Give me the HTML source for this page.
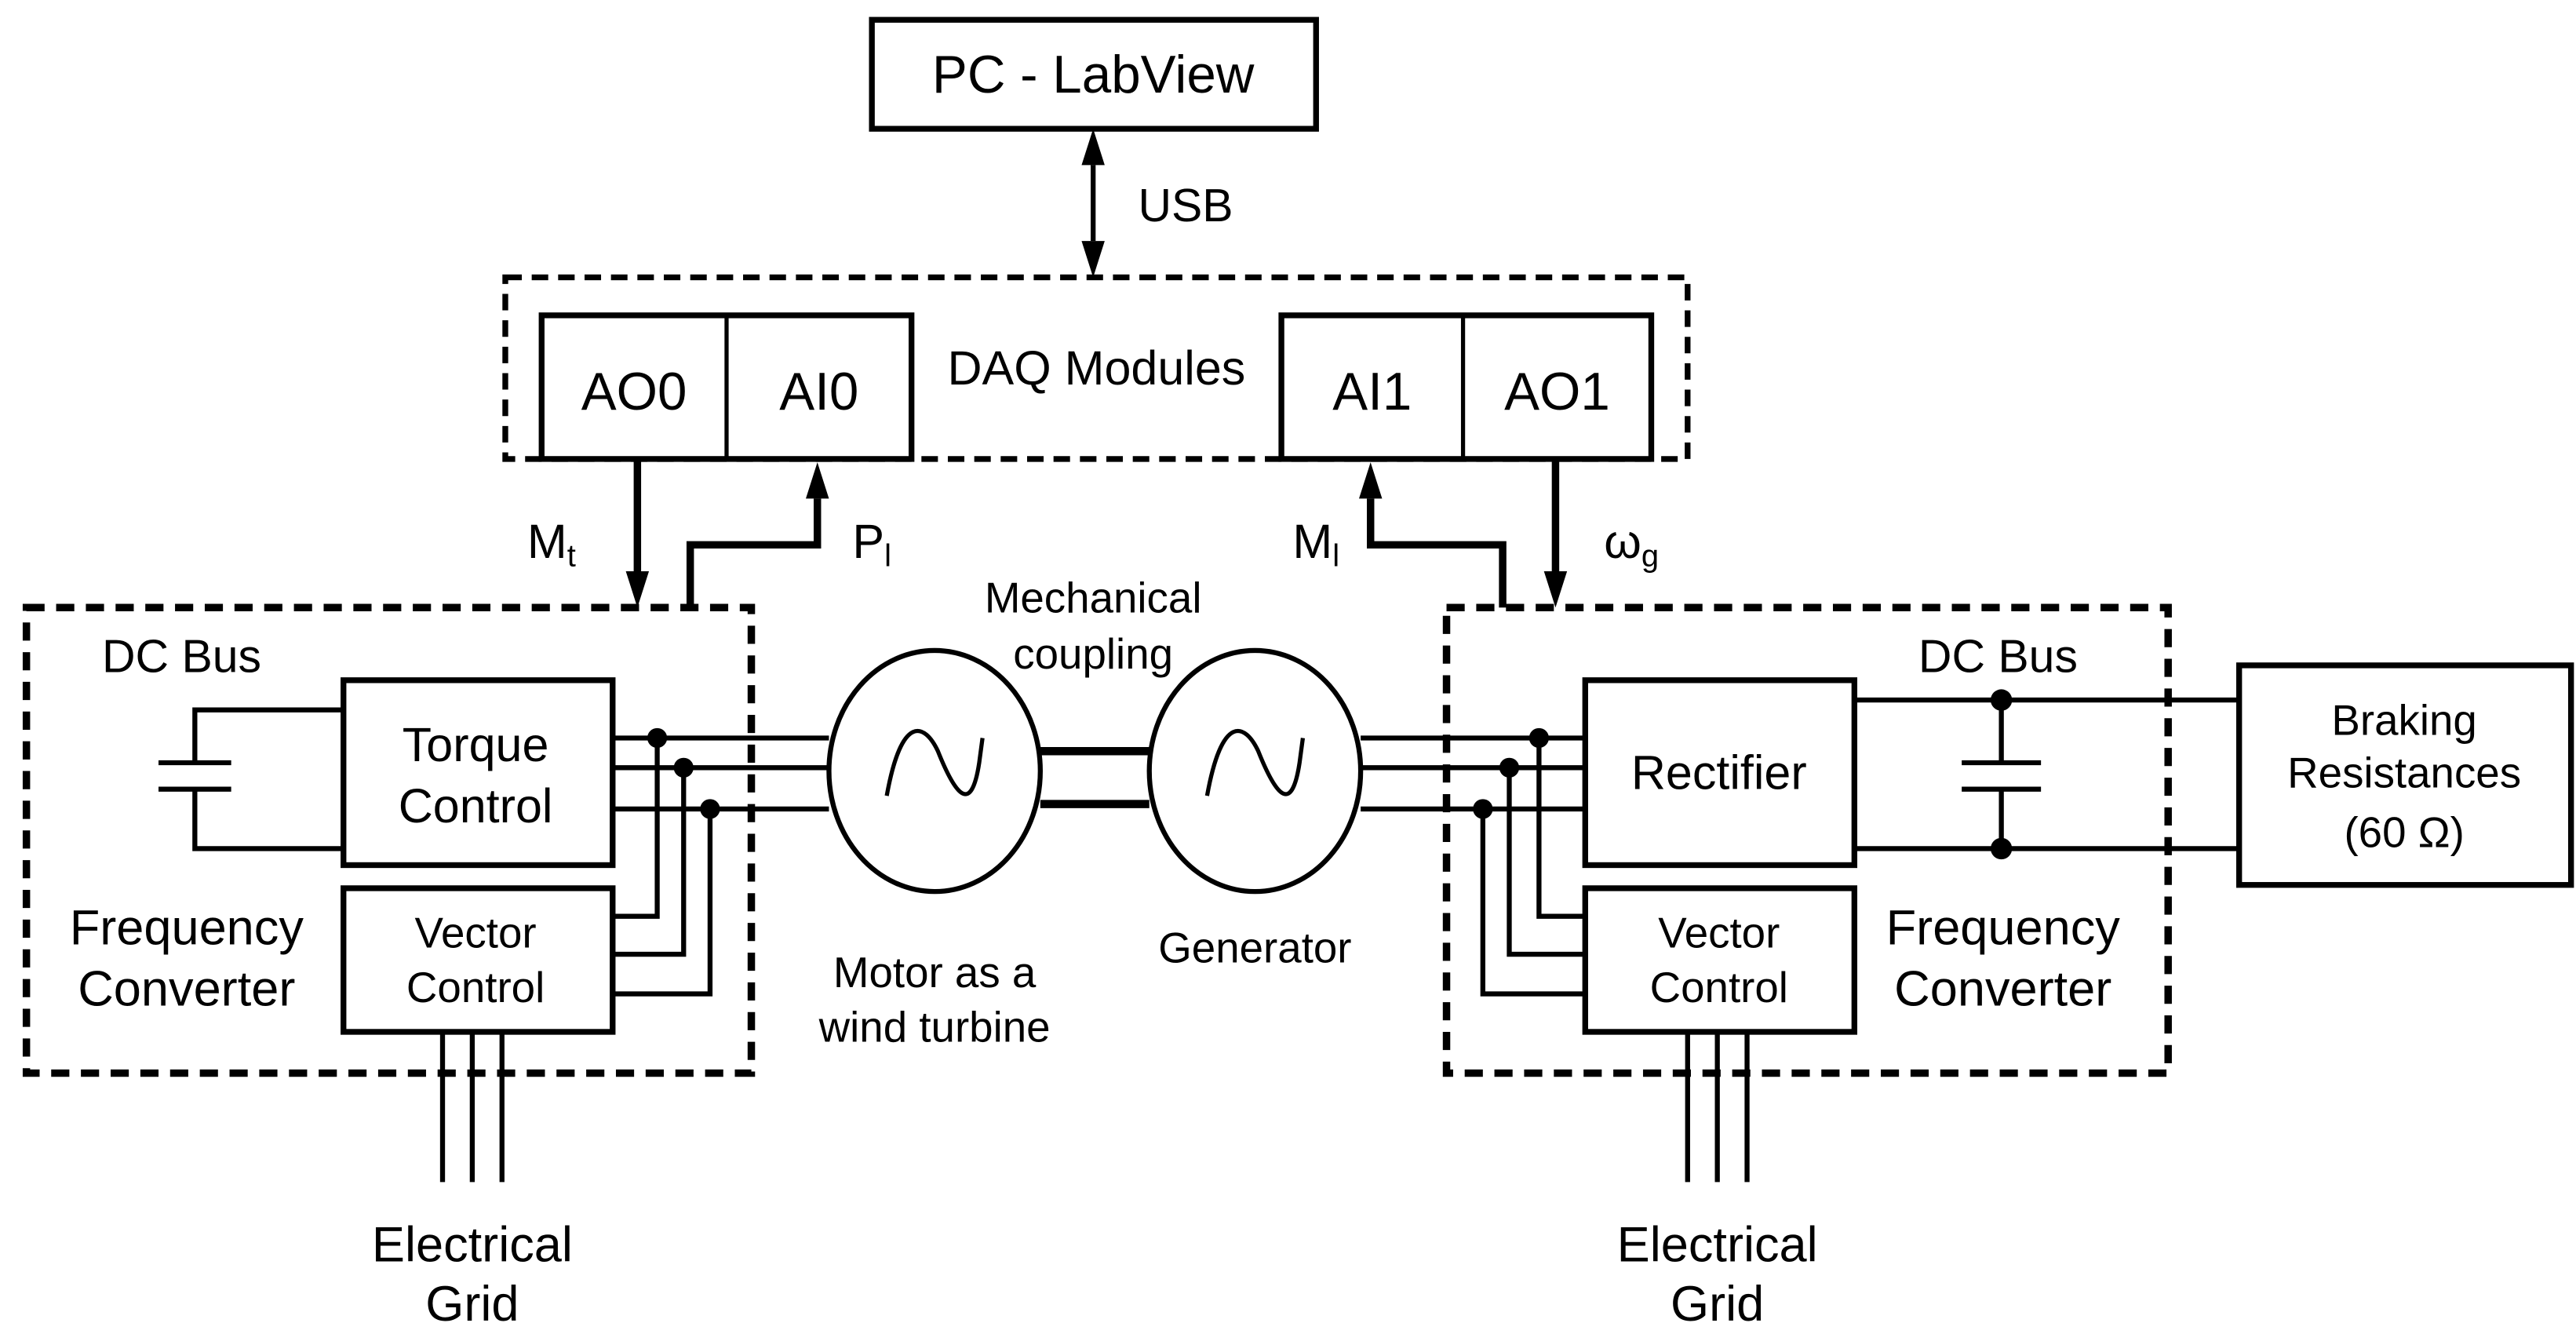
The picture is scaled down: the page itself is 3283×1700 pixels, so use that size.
<!DOCTYPE html>
<html><head><meta charset="utf-8"><style>html,body{margin:0;padding:0;background:#fff}svg{display:block}</style></head>
<body>
<svg width="3283" height="1700" viewBox="0 0 1560 808" preserveAspectRatio="none" xmlns="http://www.w3.org/2000/svg" font-family="Liberation Sans, Arial, sans-serif" text-anchor="middle">
<g fill="none" stroke="#000">
<rect x="528" y="12" width="269" height="66" stroke-width="3.5"/>
<line x1="662" y1="100" x2="662" y2="146" stroke-width="3"/>
<path d="M662,78 L655,100 L669,100z M662,168 L655,146 L669,146z" fill="#000" stroke="none"/>
<rect x="306" y="168" width="716" height="110" stroke-width="3.5" stroke-dasharray="10,6"/>
<rect x="328" y="191" width="224" height="87" fill="#fff" stroke-width="3.5"/>
<line x1="440" y1="191" x2="440" y2="278" stroke-width="2.5"/>
<rect x="776" y="191" width="224" height="87" fill="#fff" stroke-width="3.5"/>
<line x1="886" y1="191" x2="886" y2="278" stroke-width="2.5"/>
<line x1="386" y1="278" x2="386" y2="346" stroke-width="4.5"/>
<path d="M418,368 L418,330 L495,330 L495,302" stroke-width="4.5"/>
<path d="M910,368 L910,330 L830,330 L830,302" stroke-width="4.5"/>
<line x1="942" y1="278" x2="942" y2="346" stroke-width="4.5"/>
<path d="M386,368 L379,346 L393,346z M942,368 L935,346 L949,346z M495,280 L488,302 L502,302z M830,280 L823,302 L837,302z" fill="#000" stroke="none"/>
<rect x="16" y="368" width="439" height="282" stroke-width="4.5" stroke-dasharray="11,7"/>
<rect x="876" y="368" width="437" height="282" stroke-width="4.5" stroke-dasharray="11,7"/>
<rect x="208" y="412" width="163" height="112" stroke-width="3.5" fill="#fff"/>
<rect x="208" y="538" width="163" height="87" stroke-width="3.5" fill="#fff"/>
<path d="M208,430 L118,430 L118,462 M96,462 L140,462 M96,478 L140,478 M118,478 L118,514 L208,514" stroke-width="3"/>
<path d="M371,447 L502,447 M371,465 L502,465 M371,490 L502,490" stroke-width="3"/>
<path d="M398,447 L398,555 L371,555 M414,465 L414,578 L371,578 M430,490 L430,602 L371,602" stroke-width="3"/>
<path d="M268,625 L268,716 M286,625 L286,716 M304,625 L304,716" stroke-width="3"/>
<ellipse cx="566" cy="467" rx="64" ry="73" stroke-width="3"/>
<ellipse cx="760" cy="467" rx="64" ry="73" stroke-width="3"/>
<path d="M537,482 C546,432 560,438 568,455 C578,480 588,495 593,462 L595,447" stroke-width="2.5"/>
<path d="M731,482 C740,432 754,438 762,455 C772,480 782,495 787,462 L789,447" stroke-width="2.5"/>
<path d="M630,455 L696,455 M630,487 L696,487" stroke-width="5"/>
<path d="M824,447 L960,447 M824,465 L960,465 M824,490 L960,490" stroke-width="3"/>
<path d="M932,447 L932,555 L960,555 M914,465 L914,578 L960,578 M898,490 L898,602 L960,602" stroke-width="3"/>
<rect x="960" y="412" width="163" height="112" stroke-width="3.5" fill="#fff"/>
<rect x="960" y="538" width="163" height="87" stroke-width="3.5" fill="#fff"/>
<path d="M1123,424 L1356,424 M1123,514 L1356,514 M1212,424 L1212,462 M1188,462 L1236,462 M1188,478 L1236,478 M1212,478 L1212,514" stroke-width="3"/>
<path d="M1022,625 L1022,716 M1040,625 L1040,716 M1058,625 L1058,716" stroke-width="3"/>
<rect x="1356" y="403" width="201" height="133" stroke-width="3.5"/>
</g>
<g fill="#000">
<circle cx="398" cy="447" r="6"/><circle cx="414" cy="465" r="6"/><circle cx="430" cy="490" r="6"/>
<circle cx="932" cy="447" r="6"/><circle cx="914" cy="465" r="6"/><circle cx="898" cy="490" r="6"/>
<circle cx="1212" cy="424" r="6.5"/><circle cx="1212" cy="514" r="6.5"/>
</g>
<g fill="#000" font-size="30">
<text x="662" y="56" font-size="32">PC - LabView</text>
<text x="718" y="134" font-size="28">USB</text>
<text x="384" y="248" font-size="32">AO0</text>
<text x="496" y="248" font-size="32">AI0</text>
<text x="664" y="233" font-size="29">DAQ Modules</text>
<text x="831" y="248" font-size="32">AI1</text>
<text x="943" y="248" font-size="32">AO1</text>
<text x="334" y="338" font-size="29">M<tspan font-size="19" dy="5">t</tspan></text>
<text x="528" y="338" font-size="29">P<tspan font-size="19" dy="5">l</tspan></text>
<text x="797" y="338" font-size="29">M<tspan font-size="19" dy="5">l</tspan></text>
<text x="988" y="338" font-size="29">ω<tspan font-size="19" dy="5">g</tspan></text>
<text x="110" y="407" font-size="28">DC Bus</text>
<text x="1210" y="407" font-size="28">DC Bus</text>
<text x="288" y="461" font-size="29">Torque</text>
<text x="288" y="498" font-size="29">Control</text>
<text x="288" y="574" font-size="26">Vector</text>
<text x="288" y="607" font-size="26">Control</text>
<text x="1041" y="478" font-size="29">Rectifier</text>
<text x="1041" y="574" font-size="26">Vector</text>
<text x="1041" y="607" font-size="26">Control</text>
<text x="113" y="572">Frequency</text>
<text x="113" y="609">Converter</text>
<text x="1213" y="572">Frequency</text>
<text x="1213" y="609">Converter</text>
<text x="662" y="371" font-size="26">Mechanical</text>
<text x="662" y="405" font-size="26">coupling</text>
<text x="566" y="598" font-size="26">Motor as a</text>
<text x="566" y="631" font-size="26">wind turbine</text>
<text x="760" y="583" font-size="26">Generator</text>
<text x="1456" y="445" font-size="26">Braking</text>
<text x="1456" y="477" font-size="26">Resistances</text>
<text x="1456" y="513" font-size="26">(60 Ω)</text>
<text x="286" y="764">Electrical</text>
<text x="286" y="800">Grid</text>
<text x="1040" y="764">Electrical</text>
<text x="1040" y="800">Grid</text>
</g>
</svg>
</body></html>
